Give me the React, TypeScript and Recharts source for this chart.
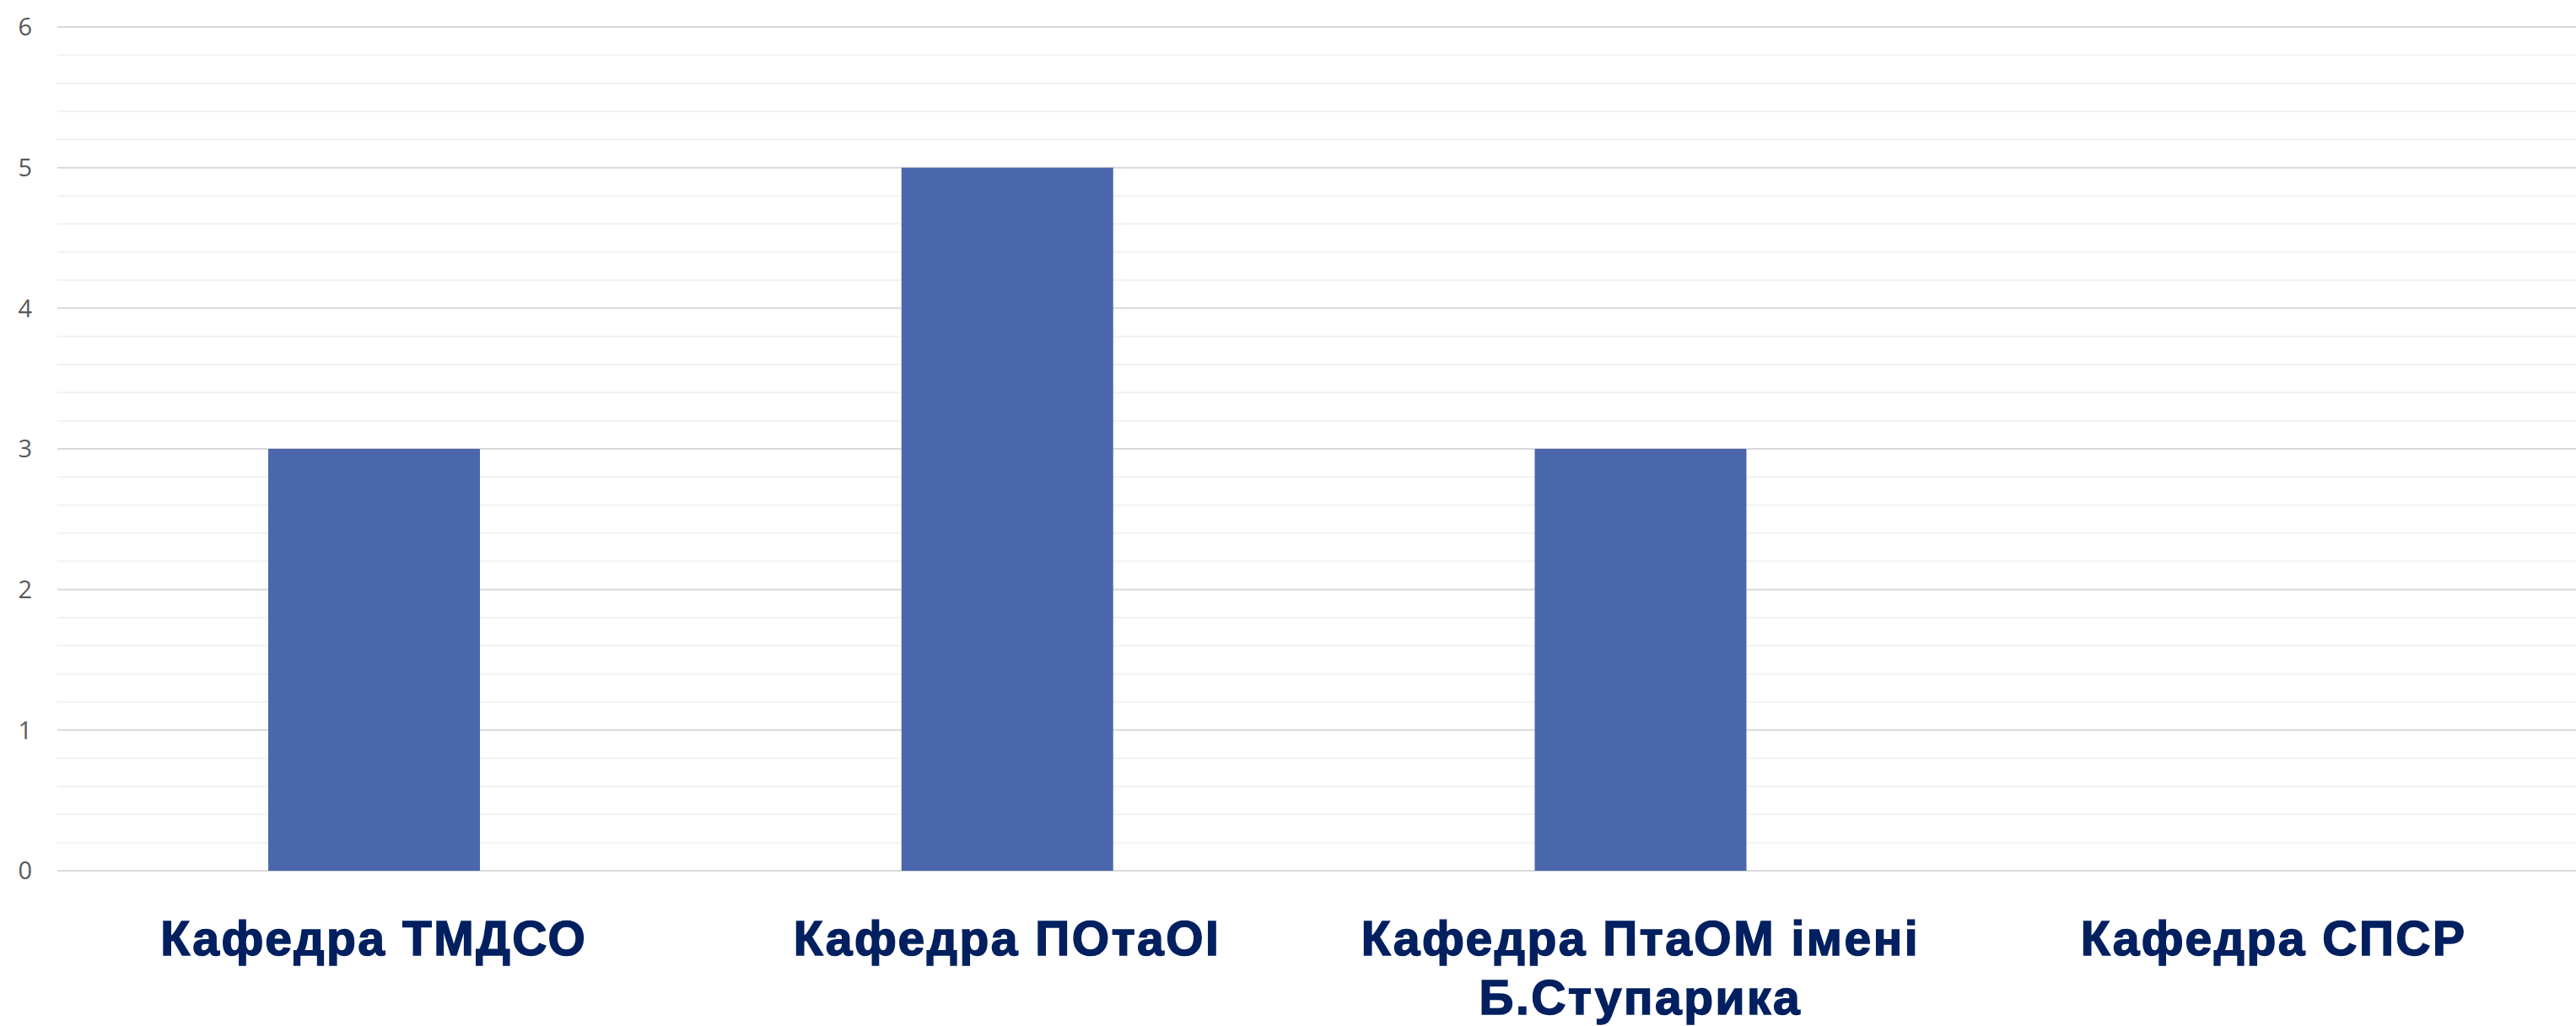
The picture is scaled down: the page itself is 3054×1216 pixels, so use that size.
import React from "react";
import { BarChart, Bar, XAxis, YAxis, CartesianGrid } from "recharts";

const categories = ["Кафедра ТМДСО", "Кафедра ПОтаОІ", "Кафедра ПтаОМ імені Б.Ступарика", "Кафедра СПСР"];
const counts = [3, 5, 3, 0];
const yTicks = [0, 1, 2, 3, 4, 5, 6];
const minorTicks = [
  0.2, 0.4, 0.6, 0.8, 1.2, 1.4, 1.6, 1.8, 2.2, 2.4, 2.6, 2.8, 3.2, 3.4, 3.6, 3.8,
  4.2, 4.4, 4.6, 4.8, 5.2, 5.4, 5.6, 5.8,
];

const data = categories.map((name, i) => ({ name, value: counts[i] }));

// simple word wrap by character count
function wrap(label: string, maxChars: number) {
  const lines: string[] = [];
  let cur = "";
  for (const w of label.split(" ")) {
    const next = cur ? cur + " " + w : w;
    if (next.length > maxChars && cur) {
      lines.push(cur);
      cur = w;
    } else {
      cur = next;
    }
  }
  if (cur) lines.push(cur);
  return lines;
}

function CategoryTick(props: any) {
  const { x, y, payload } = props;
  const lines = wrap(String(payload.value), 20);
  return (
    <text
      x={x}
      y={y}
      textAnchor="middle"
      fill="#022060"
      stroke="#022060"
      strokeWidth={1.5}
      fontSize={57}
      fontWeight="bold"
      fontFamily="'Liberation Sans', Arial, sans-serif"
      letterSpacing={2.5}
    >
      {lines.map((line, i) => (
        <tspan key={i} x={x} dy={i === 0 ? 40 : 70}>
          {line}
        </tspan>
      ))}
    </text>
  );
}

export default function App() {
  return (
    <div style={{ width: 3054, height: 1216, overflow: "hidden", background: "#fff" }}>
      <style>{`body{margin:0;overflow:hidden}`}</style>
      <BarChart
        width={3071}
        height={1216}
        data={data}
        margin={{ top: 32, right: 0, bottom: 0, left: 0 }}
        barCategoryGap="33.3%"
      >
        <CartesianGrid vertical={false} horizontalValues={minorTicks} stroke="#f2f2f2" strokeWidth={2} />
        <CartesianGrid vertical={false} stroke="#d9d9d9" strokeWidth={2} />
        <YAxis
          domain={[0, 6]}
          ticks={yTicks}
          width={68}
          axisLine={false}
          tickLine={false}
          tickMargin={24}
          tick={{ fill: "#595959", fontSize: 29, fontFamily: "'Open Sans', sans-serif" }}
        />
        <XAxis
          dataKey="name"
          height={184}
          axisLine={false}
          tickLine={false}
          tickMargin={54}
          interval={0}
          tick={<CategoryTick />}
        />
        <Bar dataKey="value" fill="#4a66ac" isAnimationActive={false} />
      </BarChart>
    </div>
  );
}
